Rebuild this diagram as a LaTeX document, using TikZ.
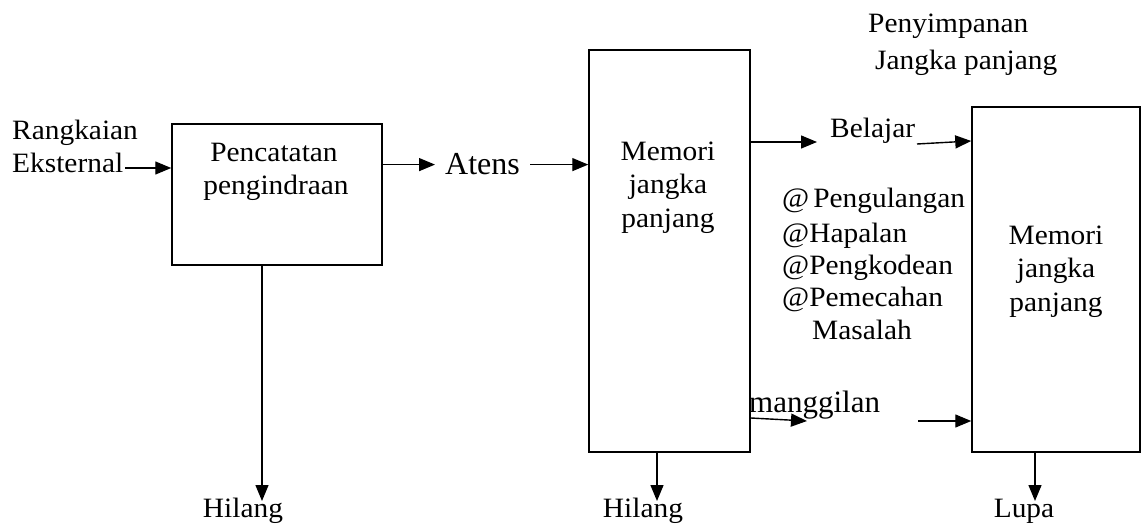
\documentclass[tikz,border=0pt]{standalone}
\usepackage{fontspec}
\setmainfont{Liberation Serif}[FakeStretch=1.05]
\newfontfamily\plainserif{Liberation Serif}
\usetikzlibrary{arrows.meta}
\tikzset{
  box/.style={draw, line width=1.5pt, inner sep=0pt},
  txt/.style={inner sep=0pt, anchor=base, font=\fontsize{28}{33}\selectfont},
  txtw/.style={txt, anchor=base west},
  bigtxt/.style={inner ysep=0pt, inner xsep=10pt, anchor=base west, font=\plainserif\fontsize{32}{38}\selectfont},
  midtxt/.style={inner sep=0pt, anchor=base west, font=\plainserif\fontsize{31}{37}\selectfont},
  arr/.style={line width=1.4pt, -{Triangle[length=16pt,width=13pt]}}
}
\begin{document}
\begin{tikzpicture}[x=1pt,y=-1pt]
\useasboundingbox (0,0) rectangle (1141,529);
% boxes
\node[box, minimum width=210pt, minimum height=141pt] (b1) at (277,194.5) {};
\node[box, minimum width=161pt, minimum height=402pt] (b2) at (669.5,251) {};
\node[box, minimum width=168pt, minimum height=345pt] (b3) at (1056,279.5) {};
% texts
\node[txtw] (rk) at (12,140) {Rangkaian};
\node[txtw] (ek) at (12,173) {Eksternal};
\node[txt] (p1) at (274,162) {Pencatatan};
\node[txt] (p2) at (276,195) {pengindraan};
\node[bigtxt] (at) at (435,175) {Atens};
\node[txt] (m1a) at (668,161) {Memori};
\node[txt] (m1b) at (668,194) {jangka};
\node[txt] (m1c) at (668,228) {panjang};
\node[txt] (m2a) at (1056,245) {Memori};
\node[txt] (m2b) at (1056,278) {jangka};
\node[txt] (m2c) at (1056,312) {panjang};
\node[txtw] (bel) at (830,138) {Belajar};
\node[txtw] (l1) at (782,208) {@\hspace{4pt}Pengulangan};
\node[txtw] (l2) at (782,243) {@Hapalan};
\node[txtw] (l3) at (782,275) {@Pengkodean};
\node[txtw] (l4) at (782,307) {@Pemecahan};
\node[txtw] (l5) at (812,340) {Masalah};
\node[txtw] (s1) at (868,33) {Penyimpanan};
\node[txtw] (s2) at (875,70) {Jangka panjang};
\node[midtxt] (mg) at (749,413) {manggilan};
\node[txt] (h1) at (243,517) {Hilang};
\node[txt] (h2) at (643,517) {Hilang};
\node[txt] (lu) at (1024,517) {Lupa};
% coordinates
\coordinate (e1) at (125,168);
\coordinate (bl1) at (817,142);
\coordinate (bl2) at (917,144);
\coordinate (bl3) at (972,141);
\coordinate (mc1) at (750,418);
\coordinate (mc2) at (807,421);
\coordinate (mc3) at (918,421);
\coordinate (d1) at (262,501);
\coordinate (d2) at (657,501);
\coordinate (d3) at (1035,501);
% connectors
\draw[arr] (e1) -- (e1 -| b1.west);
\draw[arr] (b1.east |- at.west) -- (at.west);
\draw[arr] (at.east) -- (at.east -| b2.west);
\draw[arr] (b2.east |- bl1) -- (bl1);
\draw[arr] (bl2) -- (b3.west |- bl3);
\draw[arr] (b2.east |- mc1) -- (mc2);
\draw[arr] (mc3) -- (mc3 -| b3.west);
\draw[arr] (d1 |- b1.south) -- (d1);
\draw[arr] (d2 |- b2.south) -- (d2);
\draw[arr] (d3 |- b3.south) -- (d3);
\end{tikzpicture}
\end{document}
